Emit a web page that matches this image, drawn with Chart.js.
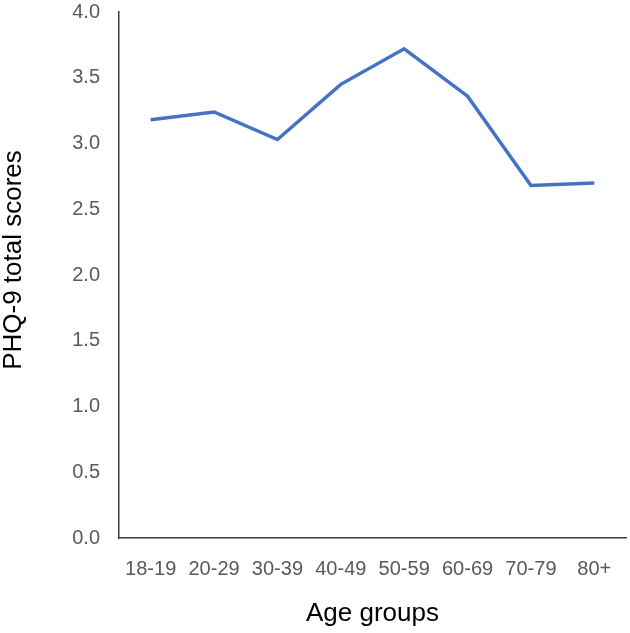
<!DOCTYPE html>
<html>
<head>
<meta charset="utf-8">
<script src="https://cdn.jsdelivr.net/npm/chart.js@4"></script>
<style>
  html, body { margin: 0; padding: 0; background: #fff; }
  #wrap { width: 630px; height: 633px; }
</style>
</head>
<body>
<div id="wrap"><canvas id="chart"></canvas></div>
<script>
// data
const ageGroups = ["18-19", "20-29", "30-39", "40-49", "50-59", "60-69", "70-79", "80+"];
const phqScores = [3.18, 3.24, 3.03, 3.45, 3.72, 3.36, 2.68, 2.70];

const FONT = "'Liberation Sans', Arial, sans-serif";

// y title sits a bit above the middle of the plot in the original
const yTitlePlugin = {
  id: "yTitle",
  afterDraw(chart) {
    const { ctx, chartArea } = chart;
    ctx.save();
    ctx.translate(14, (chartArea.top + chartArea.bottom) / 2 - 15);
    ctx.rotate(-Math.PI / 2);
    ctx.font = "26px " + FONT;
    ctx.fillStyle = "#000";
    ctx.textAlign = "center";
    ctx.textBaseline = "middle";
    ctx.fillText("PHQ-9 total scores", 0, 0);
    ctx.restore();
  },
};

new Chart(document.getElementById("chart"), {
  type: "line",
  data: {
    labels: ageGroups,
    datasets: [
      {
        label: "PHQ-9",
        data: phqScores,
        borderColor: "#4472C4",
        borderWidth: 3.5,
        pointRadius: 0,
        tension: 0,
        fill: false,
      },
    ],
  },
  options: {
    responsive: true,
    maintainAspectRatio: false,
    animation: false,
    layout: { padding: { top: 12, right: 4, left: 0, bottom: 0 } },
    plugins: {
      legend: { display: false },
      tooltip: { enabled: false },
    },
    scales: {
      x: {
        offset: true,
        grid: { display: false, drawTicks: false },
        border: { display: true, color: "#3a3a3a", width: 1.5 },
        ticks: {
          color: "#595959",
          font: { family: FONT, size: 20 },
          padding: 19,
          maxRotation: 0,
          autoSkip: false,
        },
        title: {
          display: true,
          text: "Age groups",
          color: "#000",
          font: { family: FONT, size: 26 },
          padding: { top: 0, bottom: 4 },
        },
        afterFit: (scale) => {
          scale.height = 95;
          scale.paddingRight = 0;
        },
      },
      y: {
        min: 0,
        max: 4,
        grid: { display: false, drawTicks: false },
        border: { display: true, color: "#3a3a3a", width: 1.5 },
        ticks: {
          stepSize: 0.5,
          color: "#595959",
          font: { family: FONT, size: 20 },
          padding: 19,
          callback: (v) => v.toFixed(1),
        },
        afterFit: (scale) => {
          scale.width = 119;
          scale.paddingTop = 0;
          scale.paddingBottom = 0;
        },
      },
    },
  },
  plugins: [yTitlePlugin],
});
</script>
</body>
</html>
